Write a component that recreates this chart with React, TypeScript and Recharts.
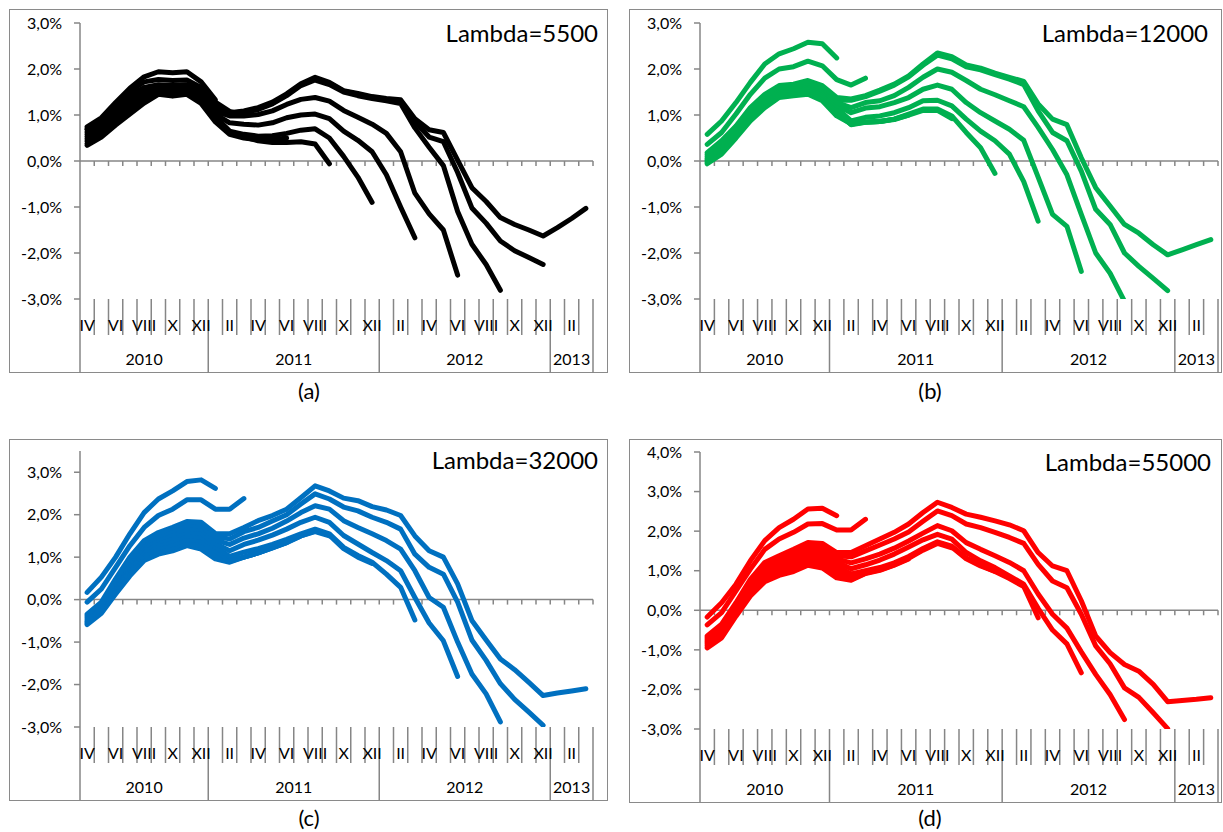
import React from "react";
import { LineChart, Line, XAxis, YAxis, ReferenceLine } from "recharts";

// monthly categories, IV 2010 .. III 2013
const months = [
  "IV", "V", "VI", "VII", "VIII", "IX", "X", "XI", "XII",
  "I", "II", "III", "IV", "V", "VI", "VII", "VIII", "IX", "X", "XI", "XII",
  "I", "II", "III", "IV", "V", "VI", "VII", "VIII", "IX", "X", "XI", "XII",
  "I", "II", "III",
];
const years = ["2010", "2011", "2012", "2013"];
const monthsPerYear = [9, 12, 12, 3];

// (a) Lambda=5500 — one array per vintage, all starting at IV 2010
const a09 = [0.74, 0.94, 1.27, 1.58, 1.83, 1.94, 1.92, 1.94, 1.72, 1.33];
const a11 = [0.7, 0.9, 1.22, 1.52, 1.72, 1.77, 1.75, 1.76, 1.6, 1.28, 1.08, 1.0];
const a14 = [0.34, 0.52, 0.78, 1.02, 1.26, 1.45, 1.41, 1.45, 1.25, 0.85, 0.58, 0.5, 0.46, 0.46, 0.5];
const a17 = [0.38, 0.57, 0.84, 1.08, 1.32, 1.48, 1.45, 1.48, 1.3, 0.9, 0.62, 0.52, 0.44, 0.4, 0.4, 0.42, 0.37, -0.06];
const a20 = [0.43, 0.63, 0.9, 1.14, 1.37, 1.51, 1.49, 1.51, 1.34, 0.96, 0.65, 0.58, 0.54, 0.55, 0.6, 0.67, 0.7, 0.5, 0.1, -0.35, -0.9];
const a23 = [0.48, 0.69, 0.96, 1.2, 1.42, 1.54, 1.52, 1.54, 1.38, 1.02, 0.83, 0.8, 0.78, 0.83, 0.94, 1.0, 1.02, 0.92, 0.65, 0.45, 0.2, -0.3, -1.0, -1.67];
const a26 = [0.53, 0.75, 1.02, 1.26, 1.47, 1.57, 1.55, 1.57, 1.42, 1.08, 0.98, 0.98, 1.01, 1.09, 1.23, 1.34, 1.38, 1.3, 1.1, 0.95, 0.8, 0.6, 0.2, -0.7, -1.15, -1.5, -2.48];
const a29 = [0.58, 0.8, 1.07, 1.32, 1.52, 1.6, 1.58, 1.6, 1.46, 1.13, 1.03, 1.05, 1.12, 1.24, 1.42, 1.64, 1.76, 1.66, 1.5, 1.42, 1.36, 1.31, 1.25, 0.72, 0.3, -0.1, -1.1, -1.81, -2.25, -2.81];
const a32 = [0.63, 0.85, 1.12, 1.37, 1.56, 1.63, 1.61, 1.63, 1.49, 1.17, 1.04, 1.07, 1.14, 1.26, 1.44, 1.66, 1.79, 1.69, 1.52, 1.45, 1.38, 1.34, 1.3, 0.85, 0.52, 0.42, -0.25, -1.02, -1.35, -1.74, -1.95, -2.1, -2.25];
const a35 = [0.68, 0.9, 1.18, 1.42, 1.6, 1.66, 1.64, 1.66, 1.52, 1.2, 1.05, 1.09, 1.16, 1.28, 1.46, 1.68, 1.82, 1.71, 1.53, 1.47, 1.4, 1.36, 1.33, 0.92, 0.68, 0.62, 0.02, -0.58, -0.88, -1.23, -1.38, -1.5, -1.63, -1.45, -1.25, -1.03];

// (b) Lambda=12000
const b09 = [0.58, 0.87, 1.27, 1.71, 2.11, 2.33, 2.44, 2.58, 2.55, 2.24];
const b11 = [0.36, 0.62, 1.02, 1.45, 1.8, 2.0, 2.05, 2.17, 2.07, 1.77, 1.65, 1.8];
const b14 = [-0.06, 0.15, 0.5, 0.87, 1.16, 1.38, 1.42, 1.45, 1.31, 0.98, 0.81, 0.84, 0.86, 0.91, 1.0];
const b17 = [-0.03, 0.19, 0.53, 0.91, 1.2, 1.42, 1.45, 1.5, 1.35, 1.04, 0.8, 0.85, 0.86, 0.9, 1.0, 1.1, 1.1, 0.92];
const b20 = [0.0, 0.23, 0.57, 0.95, 1.25, 1.45, 1.49, 1.54, 1.4, 1.1, 0.79, 0.84, 0.86, 0.91, 1.02, 1.13, 1.13, 0.98, 0.62, 0.29, -0.27];
const b23 = [0.03, 0.28, 0.61, 1.0, 1.29, 1.49, 1.53, 1.58, 1.45, 1.15, 0.87, 0.95, 0.98, 1.05, 1.16, 1.31, 1.32, 1.2, 0.91, 0.65, 0.44, 0.15, -0.45, -1.31];
const b26 = [0.06, 0.32, 0.65, 1.04, 1.33, 1.53, 1.56, 1.62, 1.5, 1.21, 1.05, 1.15, 1.18, 1.27, 1.38, 1.56, 1.65, 1.56, 1.27, 1.05, 0.87, 0.69, 0.45, -0.35, -1.16, -1.42, -2.4];
const b29 = [0.1, 0.36, 0.69, 1.08, 1.37, 1.57, 1.6, 1.67, 1.54, 1.27, 1.16, 1.27, 1.31, 1.42, 1.6, 1.82, 2.0, 1.93, 1.75, 1.56, 1.44, 1.31, 1.18, 0.73, 0.25, -0.3, -1.16, -2.0, -2.44, -3.05];
const b32 = [0.14, 0.4, 0.72, 1.12, 1.41, 1.6, 1.63, 1.71, 1.59, 1.32, 1.32, 1.4, 1.52, 1.65, 1.83, 2.08, 2.3, 2.22, 2.05, 1.98, 1.88, 1.78, 1.66, 1.09, 0.62, 0.44, -0.22, -1.05, -1.38, -2.0, -2.29, -2.55, -2.82];
const b35 = [0.18, 0.44, 0.76, 1.16, 1.45, 1.64, 1.67, 1.75, 1.64, 1.38, 1.35, 1.42, 1.54, 1.67, 1.85, 2.11, 2.35, 2.27, 2.09, 2.02, 1.91, 1.82, 1.73, 1.24, 0.91, 0.79, 0.07, -0.58, -0.98, -1.38, -1.57, -1.82, -2.04, -1.93, -1.82, -1.71];

// (c) Lambda=32000
const c09 = [0.17, 0.53, 1.0, 1.55, 2.05, 2.37, 2.56, 2.78, 2.82, 2.62];
const c11 = [-0.06, 0.25, 0.76, 1.27, 1.7, 1.98, 2.13, 2.35, 2.35, 2.13, 2.13, 2.38];
const c14 = [-0.59, -0.32, 0.13, 0.56, 0.92, 1.07, 1.15, 1.27, 1.19, 0.96, 0.88, 1.0, 1.1, 1.22, 1.34];
const c17 = [-0.56, -0.29, 0.18, 0.62, 0.98, 1.14, 1.22, 1.35, 1.28, 1.05, 0.9, 1.0, 1.1, 1.22, 1.34, 1.5, 1.6, 1.5];
const c20 = [-0.53, -0.25, 0.23, 0.69, 1.05, 1.22, 1.3, 1.43, 1.38, 1.15, 0.94, 1.0, 1.1, 1.23, 1.35, 1.5, 1.62, 1.52, 1.2, 1.0, 0.85];
const c23 = [-0.5, -0.22, 0.29, 0.76, 1.12, 1.29, 1.38, 1.51, 1.47, 1.24, 1.02, 1.12, 1.2, 1.3, 1.42, 1.55, 1.66, 1.55, 1.23, 1.04, 0.88, 0.6, 0.29, -0.48];
const c26 = [-0.46, -0.18, 0.34, 0.82, 1.18, 1.36, 1.46, 1.6, 1.56, 1.32, 1.15, 1.3, 1.4, 1.52, 1.66, 1.82, 1.94, 1.82, 1.51, 1.31, 1.11, 0.92, 0.68, 0.05, -0.55, -0.97, -1.81];
const c29 = [-0.42, -0.14, 0.39, 0.88, 1.25, 1.43, 1.54, 1.68, 1.65, 1.4, 1.3, 1.45, 1.55, 1.68, 1.85, 2.05, 2.21, 2.13, 1.86, 1.7, 1.55, 1.39, 1.19, 0.68, 0.05, -0.18, -1.0, -1.75, -2.22, -2.88];
const c32 = [-0.38, -0.1, 0.44, 0.94, 1.32, 1.5, 1.62, 1.76, 1.73, 1.48, 1.43, 1.6, 1.7, 1.85, 2.0, 2.25, 2.49, 2.37, 2.18, 2.09, 1.94, 1.82, 1.66, 1.07, 0.76, 0.6, -0.06, -0.95, -1.43, -1.98, -2.35, -2.65, -2.96];
const c35 = [-0.34, -0.06, 0.49, 1.0, 1.39, 1.58, 1.7, 1.84, 1.82, 1.56, 1.55, 1.7, 1.86, 1.98, 2.13, 2.4, 2.68, 2.56, 2.39, 2.33, 2.19, 2.11, 1.98, 1.5, 1.15, 1.0, 0.37, -0.49, -0.95, -1.4, -1.65, -1.95, -2.26, -2.2, -2.15, -2.1];

// (d) Lambda=55000
const d09 = [-0.17, 0.19, 0.66, 1.25, 1.76, 2.09, 2.3, 2.56, 2.58, 2.39];
const d11 = [-0.37, -0.06, 0.49, 1.04, 1.54, 1.8, 1.97, 2.18, 2.19, 2.03, 2.03, 2.3];
const d14 = [-0.95, -0.7, -0.15, 0.36, 0.72, 0.88, 0.98, 1.14, 1.07, 0.82, 0.76, 0.93, 1.01, 1.14, 1.3];
const d17 = [-0.9, -0.64, -0.1, 0.42, 0.8, 0.95, 1.06, 1.22, 1.16, 0.92, 0.78, 0.94, 1.02, 1.15, 1.31, 1.52, 1.69, 1.58];
const d20 = [-0.85, -0.59, -0.06, 0.48, 0.88, 1.03, 1.14, 1.31, 1.26, 1.02, 0.82, 0.95, 1.04, 1.17, 1.33, 1.54, 1.71, 1.6, 1.3, 1.12, 0.98];
const d23 = [-0.81, -0.54, -0.01, 0.54, 0.95, 1.1, 1.22, 1.39, 1.35, 1.12, 0.92, 1.0, 1.08, 1.2, 1.36, 1.56, 1.73, 1.62, 1.32, 1.14, 0.98, 0.8, 0.6, -0.19];
const d26 = [-0.77, -0.49, 0.04, 0.6, 1.02, 1.17, 1.3, 1.47, 1.43, 1.22, 1.05, 1.15, 1.27, 1.42, 1.6, 1.78, 1.92, 1.8, 1.46, 1.25, 1.08, 0.87, 0.66, 0.05, -0.5, -0.85, -1.58];
const d29 = [-0.73, -0.44, 0.09, 0.66, 1.09, 1.24, 1.38, 1.55, 1.52, 1.3, 1.2, 1.3, 1.42, 1.57, 1.75, 1.95, 2.14, 2.01, 1.71, 1.54, 1.38, 1.21, 1.0, 0.41, -0.1, -0.45, -1.05, -1.62, -2.13, -2.76];
const d32 = [-0.69, -0.4, 0.14, 0.72, 1.15, 1.31, 1.46, 1.63, 1.6, 1.38, 1.35, 1.5, 1.65, 1.8, 1.98, 2.25, 2.51, 2.39, 2.18, 2.09, 1.97, 1.84, 1.69, 1.16, 0.74, 0.57, -0.1, -0.9, -1.35, -1.96, -2.2, -2.59, -2.99];
const d35 = [-0.65, -0.35, 0.19, 0.78, 1.21, 1.38, 1.54, 1.71, 1.69, 1.46, 1.46, 1.63, 1.8, 1.97, 2.18, 2.47, 2.73, 2.6, 2.43, 2.35, 2.26, 2.16, 2.01, 1.46, 1.12, 1.0, 0.24, -0.65, -1.07, -1.37, -1.54, -1.87, -2.31, -2.28, -2.25, -2.21];

const AXIS = "#868686";
const FONT = "Lato, 'Open Sans', sans-serif";
const MONTH_H = 36;
const N = months.length;

const yearBounds = monthsPerYear.reduce((acc, n) => [...acc, acc[acc.length - 1] + n], [0]);
const yearCenters = years.map((_, i) => (yearBounds[i] + yearBounds[i + 1]) / 2);
const monthTicks = [
  ...Array.from({ length: N + 1 }, (_, i) => i),
  ...months.map((_, i) => i + 0.5).filter((_, i) => i % 2 === 0),
];
const yearTicks = [...yearBounds, ...yearCenters];

const fmtPct = (v: number) => `${v.toFixed(1).replace(".", ",")}%`;

function buildRows(series: number[][]) {
  return months.map((_, i) => {
    const row: Record<string, number> = { x: i + 0.5 };
    series.forEach((s, k) => {
      if (i < s.length) row["s" + k] = s[i];
    });
    return row;
  });
}

function MonthTick(props: any) {
  const { x, y, payload } = props;
  const v = payload.value;
  if (Number.isInteger(v)) {
    return <line x1={x} x2={x} y1={y} y2={y + MONTH_H} stroke={AXIS} strokeWidth={1.5} />;
  }
  return (
    <text x={x} y={y + 32} textAnchor="middle" fontSize={16} fill="#000">
      {months[Math.floor(v)]}
    </text>
  );
}

function makeYearTick(h: number) {
  return (props: any) => {
    const { x, y, payload } = props;
    const v = payload.value;
    if (yearBounds.includes(v)) {
      return <line x1={x} x2={x} y1={y} y2={y + h} stroke={AXIS} strokeWidth={1.5} />;
    }
    return (
      <text x={x} y={y + 30} textAnchor="middle" fontSize={16} fill="#000">
        {years[yearCenters.indexOf(v)]}
      </text>
    );
  };
}

// zero line of the category axis, with a small tick at every month boundary
function ZeroAxis(props: any) {
  const { x1, x2, y1 } = props;
  const step = (x2 - x1) / N;
  return (
    <g>
      <line x1={x1} x2={x2} y1={y1} y2={y1} stroke={AXIS} strokeWidth={1.5} />
      {months.map((_, i) => (
        <line
          key={i}
          x1={x1 + step * (i + 1)}
          x2={x1 + step * (i + 1)}
          y1={y1}
          y2={y1 + 5}
          stroke={AXIS}
          strokeWidth={1.5}
        />
      ))}
    </g>
  );
}

type PanelCfg = {
  series: number[][];
  color: string;
  lambda: string;
  caption: string;
  yMax: number;
  left: number;
  top: number;
  width: number;
  height: number;
  marginTop: number;
  marginRight: number;
  yearH: number;
  box: number[];
  lambdaRight: number;
  lambdaY: number;
  captionX: number;
  captionY: number;
};

const panels: PanelCfg[] = [
  {
    series: [a09, a11, a14, a17, a20, a23, a26, a29, a32, a35],
    color: "#000000", lambda: "Lambda=5500", caption: "(a)", yMax: 3,
    left: 0, top: 0, width: 610, height: 373, marginTop: 23, marginRight: 17, yearH: 38,
    box: [9, 9, 599, 364], lambdaRight: 598, lambdaY: 33, captionX: 309, captionY: 391,
  },
  {
    series: [b09, b11, b14, b17, b20, b23, b26, b29, b32, b35],
    color: "#00B050", lambda: "Lambda=12000", caption: "(b)", yMax: 3,
    left: 620, top: 0, width: 603, height: 373, marginTop: 23, marginRight: 5, yearH: 38,
    box: [629, 9, 593, 364], lambdaRight: 1208, lambdaY: 33, captionX: 930, captionY: 391,
  },
  {
    series: [c09, c11, c14, c17, c20, c23, c26, c29, c32, c35],
    color: "#0070C0", lambda: "Lambda=32000", caption: "(c)", yMax: 3.5,
    left: 0, top: 430, width: 610, height: 370, marginTop: 21, marginRight: 17, yearH: 37,
    box: [9, 439, 599, 362], lambdaRight: 598, lambdaY: 460, captionX: 309, captionY: 818,
  },
  {
    series: [d09, d11, d14, d17, d20, d23, d26, d29, d32, d35],
    color: "#FF0000", lambda: "Lambda=55000", caption: "(d)", yMax: 4,
    left: 620, top: 430, width: 603, height: 372, marginTop: 22, marginRight: 5, yearH: 37,
    box: [629, 439, 593, 364], lambdaRight: 1211, lambdaY: 462, captionX: 930, captionY: 818,
  },
];

function Panel({ p }: { p: PanelCfg }) {
  const rows = buildRows(p.series);
  const yTicks: number[] = [];
  for (let v = -3; v <= Math.floor(p.yMax); v++) yTicks.push(v);
  const YearTick = makeYearTick(p.yearH);

  return (
    <>
      <div
        style={{
          position: "absolute",
          left: p.box[0],
          top: p.box[1],
          width: p.box[2],
          height: p.box[3],
          border: "1.5px solid #8a8a8a",
          boxSizing: "border-box",
        }}
      />
      <div style={{ position: "absolute", left: p.left, top: p.top }}>
        <LineChart
          width={p.width}
          height={p.height}
          data={rows}
          margin={{ top: p.marginTop, right: p.marginRight, left: 10, bottom: 0 }}
        >
          <XAxis
            xAxisId="m"
            type="number"
            dataKey="x"
            domain={[0, N]}
            allowDataOverflow
            ticks={monthTicks}
            interval={0}
            height={MONTH_H}
            tickSize={0}
            tickMargin={0}
            axisLine={false}
            tickLine={false}
            tick={(t: any) => <MonthTick {...t} />}
          />
          <XAxis
            xAxisId="yr"
            type="number"
            dataKey="x"
            domain={[0, N]}
            allowDataOverflow
            ticks={yearTicks}
            interval={0}
            height={p.yearH}
            tickSize={0}
            tickMargin={0}
            axisLine={false}
            tickLine={false}
            tick={(t: any) => <YearTick {...t} />}
          />
          <YAxis
            type="number"
            domain={[-3, p.yMax]}
            allowDataOverflow
            ticks={yTicks}
            interval={0}
            width={70}
            tickSize={6}
            tickMargin={12}
            axisLine={{ stroke: AXIS, strokeWidth: 1.5 }}
            tickLine={{ stroke: AXIS, strokeWidth: 1.5 }}
            tick={{ fill: "#000", fontSize: 16 }}
            tickFormatter={fmtPct}
          />
          <ReferenceLine xAxisId="m" y={0} shape={(s: any) => <ZeroAxis {...s} />} />
          {p.series.map((_, k) => (
            <Line
              key={k}
              xAxisId="m"
              type="linear"
              dataKey={"s" + k}
              stroke={p.color}
              strokeWidth={5}
              strokeLinecap="round"
              strokeLinejoin="round"
              dot={false}
              activeDot={false}
              isAnimationActive={false}
            />
          ))}
        </LineChart>
      </div>
      <div
        style={{
          position: "absolute",
          left: p.lambdaRight - 260,
          width: 260,
          top: p.lambdaY - 14,
          lineHeight: "28px",
          fontSize: 24,
          textAlign: "right",
          color: "#000",
        }}
      >
        {p.lambda}
      </div>
      <div
        style={{
          position: "absolute",
          left: p.captionX - 40,
          width: 80,
          top: p.captionY - 12,
          lineHeight: "24px",
          fontSize: 22,
          textAlign: "center",
          color: "#000",
        }}
      >
        {p.caption}
      </div>
    </>
  );
}

export default function App() {
  return (
    <div
      style={{
        position: "absolute",
        left: 0,
        top: 0,
        width: 1223,
        height: 832,
        background: "#fff",
        fontFamily: FONT,
        overflow: "hidden",
      }}
    >
      {panels.map((p) => (
        <Panel key={p.caption} p={p} />
      ))}
    </div>
  );
}
